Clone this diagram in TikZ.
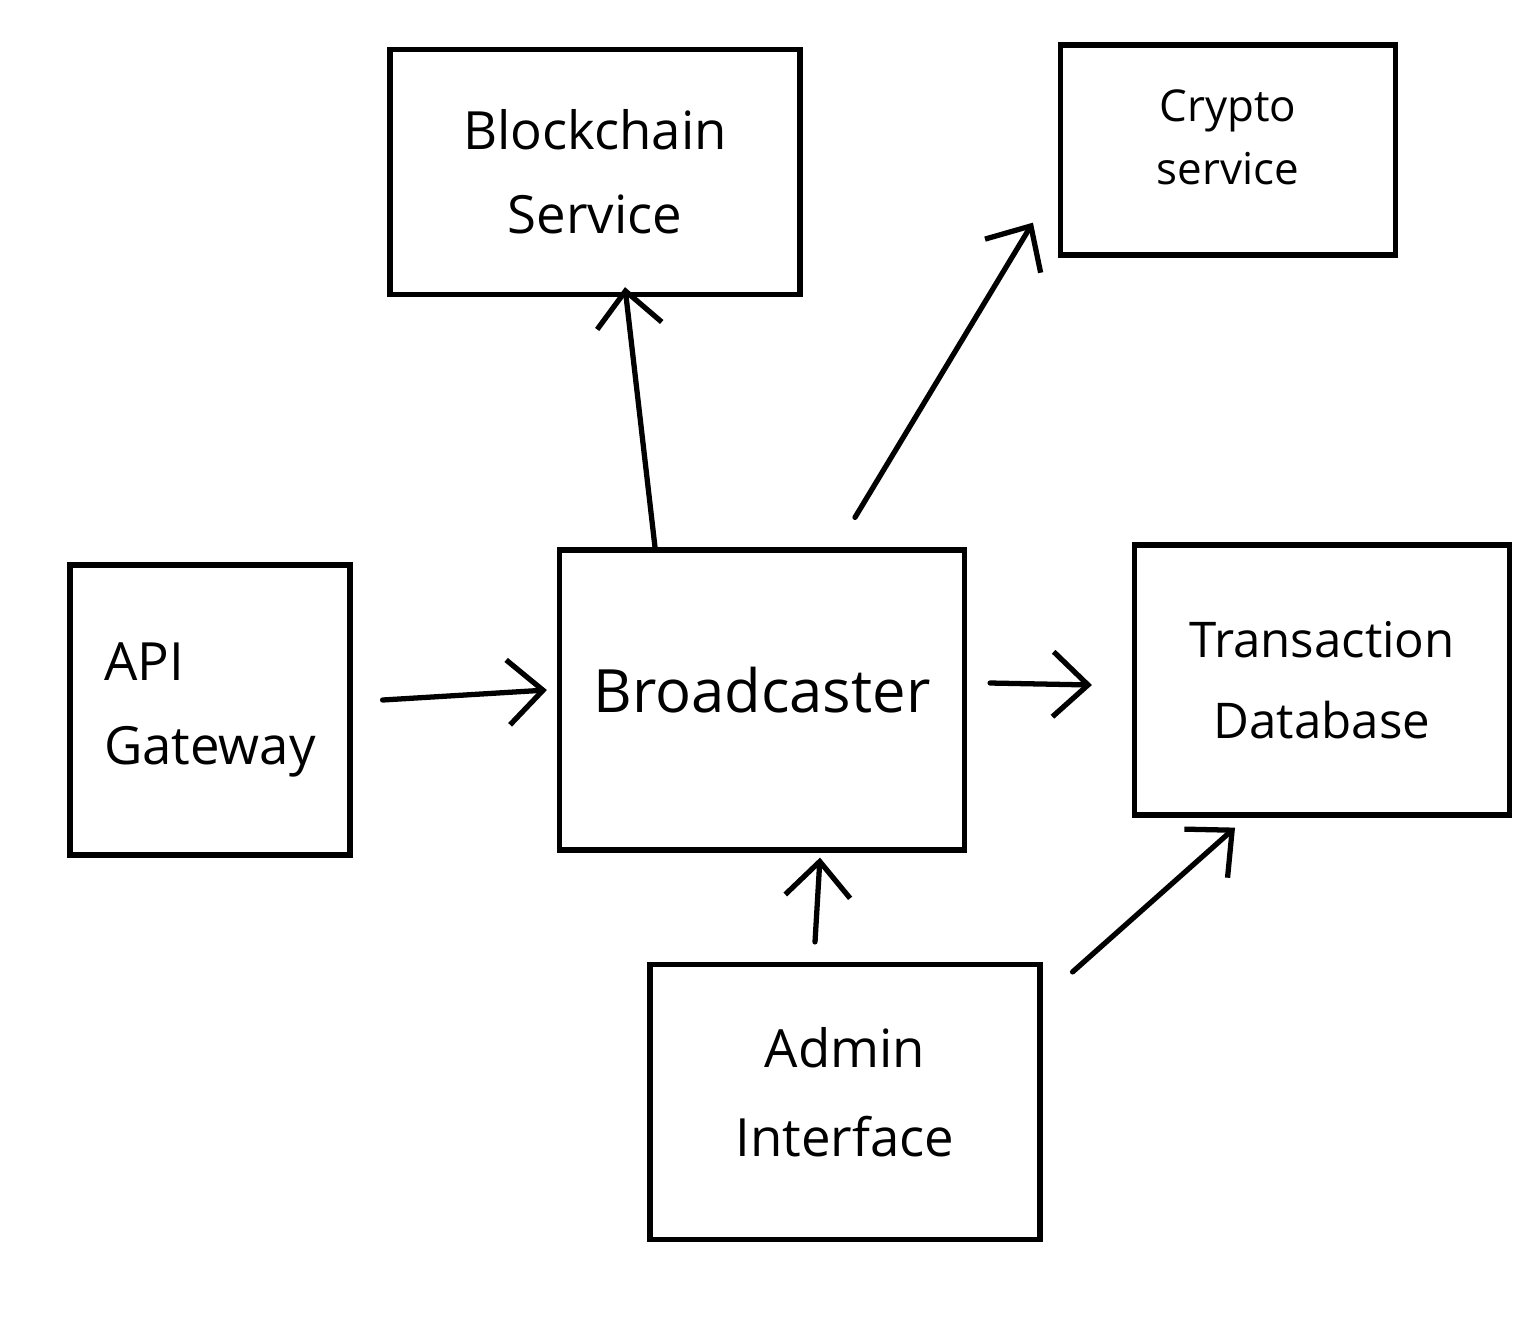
\documentclass[tikz,border=0pt]{standalone}
\usepackage{fontspec}
\setmainfont{Open Sans}
\usepackage{tikz}
\usetikzlibrary{arrows.meta}

\begin{document}
\begin{tikzpicture}[
        x=0.02cm, y=-0.02cm,
        box/.style={draw, line width=3pt, inner sep=0pt, align=center, font=\fontsize{30}{48}\selectfont},
        arr/.style={line width=3pt, line cap=round, -{Straight Barb[length=0.7cm, width=1.3cm, line width=3pt]}}
    ]

    % frame of the page
    \useasboundingbox (0,0) rectangle (1537,1316);

    % services on top
    \node[box, minimum width=8.2cm, minimum height=4.9cm] (blockchain) at (595,172) {Blockchain\\Service};
    \node[box, minimum width=6.7cm, minimum height=4.2cm, font=\fontsize{25}{38}\selectfont] (crypto) at (1228,150) {\raisebox{0.5cm}{\shortstack{Crypto\\[0.3cm]service}}};

    % middle row
    \node[box, minimum width=5.6cm, minimum height=5.8cm, align=left] (api) at (210,710) {API\\Gateway};
    \node[box, minimum width=8.1cm, minimum height=6cm, font=\fontsize{34}{48}\selectfont] (broad) at (762,700) {\raisebox{0.4cm}{Broadcaster}};
    \node[box, minimum width=7.8cm, minimum height=5.5cm] (admin) at (845,1102) {\raisebox{0.4cm}{\shortstack{Admin\\[0.85cm]Interface}}};
    \node[box, minimum width=7.5cm, minimum height=5.4cm, font=\fontsize{28}{46}\selectfont] (txdb) at (1322,680) {Transaction\\Database};

    % connectors
    \draw[arr] ([xshift=0.6cm, yshift=0.2cm]api.east) -- ([xshift=-0.2cm, yshift=0.2cm]broad.west);
    \draw[arr] ([xshift=-2.14cm]broad.north) -- ([xshift=0.6cm, yshift=0.2cm]blockchain.south);
    \draw[arr] ([xshift=1.86cm, yshift=0.6cm]broad.north) -- ([xshift=-0.5cm, yshift=0.7cm]crypto.south west);
    \draw[arr] ([xshift=0.46cm, yshift=0.34cm]broad.east) -- ([xshift=-0.8cm, yshift=-0.1cm]txdb.west);
    \draw[arr] ([xshift=-0.6cm, yshift=0.4cm]admin.north) -- ([xshift=1.16cm, yshift=-0.1cm]broad.south);
    \draw[arr] ([xshift=0.6cm, yshift=-0.2cm]admin.north east) -- ([xshift=-1.74cm, yshift=-0.2cm]txdb.south);

\end{tikzpicture}
\end{document}
